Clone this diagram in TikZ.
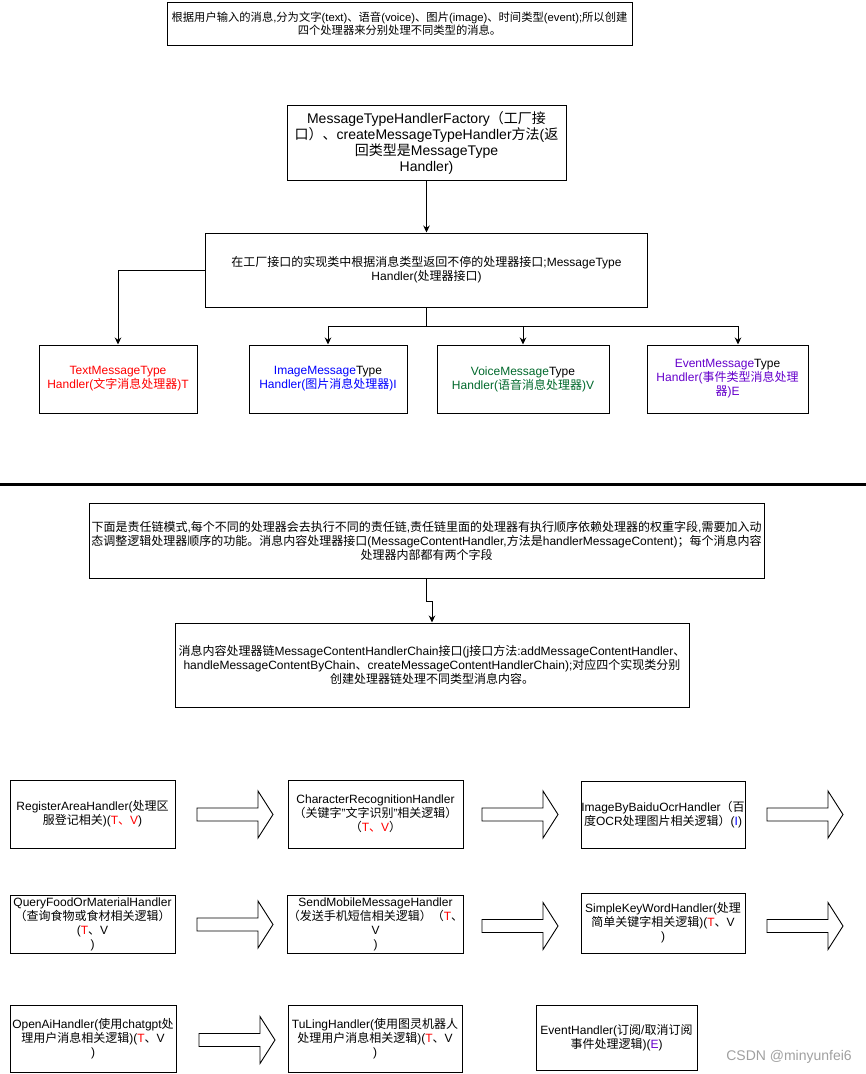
\documentclass[tikz,border=0pt]{standalone}
\usepackage{fontspec}
\setmainfont{Liberation Sans}
\newfontfamily\cjkfont{Noto Sans CJK SC}
\usetikzlibrary{arrows.meta,calc}
\XeTeXinterchartokenstate=1
\newXeTeXintercharclass\CJKcls
\newcount\cjkcc
\def\cjkrange#1#2{\cjkcc=#1\relax\loop\XeTeXcharclass\cjkcc=\CJKcls\relax\ifnum\cjkcc<#2\relax\advance\cjkcc by 1\relax\repeat}
\cjkrange{"4E00}{"9FFF}
\cjkrange{"3000}{"303F}
\cjkrange{"FF00}{"FFEF}
\XeTeXinterchartoks 0 \CJKcls = {\begingroup\cjkfont}
\XeTeXinterchartoks 4095 \CJKcls = {\begingroup\cjkfont}
\XeTeXinterchartoks \CJKcls 0 = {\endgroup}
\XeTeXinterchartoks \CJKcls 4095 = {\endgroup}
\definecolor{tred}{HTML}{FF0000}
\definecolor{iblue}{HTML}{0000FF}
\definecolor{vgreen}{HTML}{00692C}
\definecolor{epurple}{HTML}{6600CC}
\definecolor{wm}{HTML}{A0A0A0}
\tikzset{
  box/.style={draw=black, line width=1pt, fill=white, align=center, inner sep=0pt,
    font=\fontsize{12}{14}\selectfont},
  bigtext/.style={font=\fontsize{14}{16}\selectfont},
  smalltext/.style={font=\fontsize{11.3}{13.5}\selectfont},
  arr/.style={draw=black, line width=1pt, -{Stealth[length=7pt,width=6.5pt]}},
  plainline/.style={draw=black, line width=1pt},
  sepline/.style={draw=black, line width=3pt},
  blockarrow/.pic={\draw[line width=0.9pt, fill=white] (0,-6.5) -- (61,-6.5) -- (61,-23.5) -- (76,0) -- (61,23.5) -- (61,6.5) -- (0,6.5) -- cycle;},
  watermark/.style={text=wm, font=\fontsize{14}{16}\selectfont, inner sep=0pt}
}
\begin{document}
\begin{tikzpicture}[x=1pt,y=-1pt]
\useasboundingbox (0,0) rectangle (866,1074);

% top section
\node[box, smalltext, minimum width=465, minimum height=43] (top) at (399.5,23.5)
  {根据用户输入的消息,分为文字(text)、语音(voice)、图片(image)、时间类型(event);所以创建\\四个处理器来分别处理不同类型的消息。};
\node[box, bigtext, minimum width=279, minimum height=75] (factory) at (426.5,142.5)
  {MessageTypeHandlerFactory（工厂接\\口）、createMessageTypeHandler方法(返\\回类型是MessageType\\Handler)};
\node[box, minimum width=442, minimum height=74] (impl) at (426.5,270)
  {在工厂接口的实现类中根据消息类型返回不停的处理器接口;MessageType\\Handler(处理器接口)};

\node[box, text=tred, minimum width=158, minimum height=68] (text) at (118,379)
  {TextMessageType\\Handler(文字消息处理器)T};
\node[box, text=iblue, minimum width=158, minimum height=68] (image) at (328,379)
  {ImageMessage\textcolor{black}{Type}\\Handler(图片消息处理器)I};
\node[box, text=vgreen, minimum width=172, minimum height=68] (voice) at (523,379)
  {VoiceMessage\textcolor{black}{Type}\\Handler(语音消息处理器)V};
\node[box, text=epurple, minimum width=161, minimum height=68] (event) at (727.5,379)
  {EventMessage\textcolor{black}{Type}\\Handler(事件类型消息处理\\器)E};

\draw[arr] (factory.south) -- (impl.north);
\draw[arr] (impl.west) -| (text.north);
\coordinate (bus) at (426.5,326);
\draw[plainline] (impl.south) -- (bus);
\draw[arr] (bus) -| (image.north);
\draw[arr] (bus) -| (voice.north);
\draw[arr] (bus) -| ([xshift=10.5pt]event.north);

% separator
\draw[sepline] (0,484) -- (866,484);

% chain section
\node[box, minimum width=675, minimum height=75] (chain) at (426.5,540.5)
  {下面是责任链模式,每个不同的处理器会去执行不同的责任链,责任链里面的处理器有执行顺序依赖处理器的权重字段,需要加入动\\态调整逻辑处理器顺序的功能。消息内容处理器接口(MessageContentHandler,方法是handlerMessageContent)；每个消息内容\\处理器内部都有两个字段};
\node[box, minimum width=514, minimum height=84] (chainif) at (432,665)
  {消息内容处理器链MessageContentHandlerChain接口(j接口方法:addMessageContentHandler、\\handleMessageContentByChain、createMessageContentHandlerChain);对应四个实现类分别\\创建处理器链处理不同类型消息内容。};
\draw[arr] (chain.south) -- ++(0,23) -| (chainif.north);

% handlers row 1
\node[box, minimum width=165, minimum height=68] (reg) at (92.5,814)
  {RegisterAreaHandler(处理区\\服登记相关)(\textcolor{tred}{T、V})};
\node[box, minimum width=175, minimum height=68] (chr) at (375.5,814)
  {CharacterRecognitionHandler\\（关键字"文字识别"相关逻辑）\\（\textcolor{tred}{T、V}）};
\node[box, minimum width=164, minimum height=67] (img) at (663,814.5)
  {ImageByBaiduOcrHandler（百\\度OCR处理图片相关逻辑）(\textcolor{iblue}{I})};
\pic at (197,814.5) {blockarrow};
\pic at (482,814.5) {blockarrow};
\pic at (767,814.5) {blockarrow};

% handlers row 2
\node[box, minimum width=165, minimum height=58] (qf) at (92.5,924)
  {QueryFoodOrMaterialHandler\\（查询食物或食材相关逻辑）\\(\textcolor{tred}{T}、V\\)};
\node[box, minimum width=175, minimum height=58] (sm) at (375.5,924)
  {SendMobileMessageHandler\\（发送手机短信相关逻辑）（\textcolor{tred}{T}、\\V\\)};
\node[box, minimum width=164, minimum height=60] (sk) at (663,923)
  {SimpleKeyWordHandler(处理\\简单关键字相关逻辑)(\textcolor{tred}{T}、V\\)};
\pic at (197,924.5) {blockarrow};
\pic at (482,926) {blockarrow};
\pic at (767,926) {blockarrow};

% handlers row 3
\node[box, minimum width=166, minimum height=67] (oa) at (93,1038.5)
  {OpenAiHandler(使用chatgpt处\\理用户消息相关逻辑)(\textcolor{tred}{T}、V\\)};
\node[box, minimum width=174, minimum height=67] (tl) at (375,1038.5)
  {TuLingHandler(使用图灵机器人\\处理用户消息相关逻辑)(\textcolor{tred}{T}、V\\)};
\node[box, minimum width=161, minimum height=65] (ev) at (616.5,1037.5)
  {EventHandler(订阅/取消订阅\\事件处理逻辑)(\textcolor{epurple}{E})};
\pic at (199,1040) {blockarrow};

\node[watermark, anchor=east] (wmk) at (852,1057) {CSDN @minyunfei6};
\end{tikzpicture}
\end{document}
